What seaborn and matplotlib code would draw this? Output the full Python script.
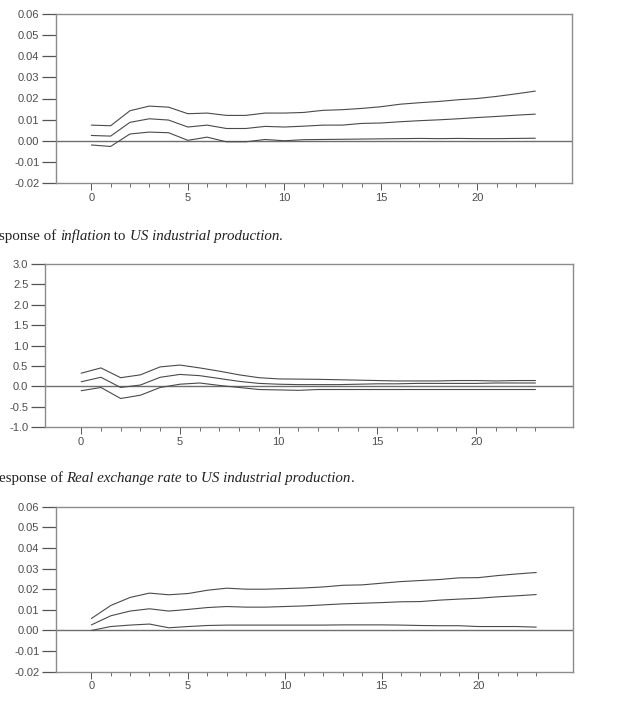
import pandas as pd
import matplotlib
matplotlib.use("Agg")
import matplotlib.pyplot as plt
from matplotlib.ticker import FixedLocator
import seaborn as sns

# horizon (periods after the shock)
periods = list(range(24))

# response of the first variable (top panel)
p1_upper = [0.0074, 0.0071, 0.0142, 0.0164, 0.0159, 0.0128, 0.0131, 0.0120, 0.0120, 0.0131, 0.0131, 0.0134,
            0.0144, 0.0147, 0.0153, 0.0161, 0.0173, 0.0180, 0.0186, 0.0194, 0.0200, 0.0210, 0.0222, 0.0235]
p1_mid = [0.0025, 0.0022, 0.0087, 0.0104, 0.0098, 0.0065, 0.0074, 0.0058, 0.0058, 0.0068, 0.0065, 0.0069,
          0.0074, 0.0074, 0.0082, 0.0084, 0.0090, 0.0095, 0.0099, 0.0104, 0.0110, 0.0115, 0.0121, 0.0126]
p1_lower = [-0.0020, -0.0027, 0.0032, 0.0041, 0.0038, 0.0002, 0.0017, -0.0005, -0.0005, 0.0006, 0.0000, 0.0005,
            0.0006, 0.0007, 0.0008, 0.0009, 0.0010, 0.0011, 0.0010, 0.0011, 0.0010, 0.0010, 0.0011, 0.0012]

# response of inflation to US industrial production
p2_upper = [0.32, 0.45, 0.21, 0.28, 0.475, 0.52, 0.45, 0.37, 0.28, 0.21, 0.18, 0.175,
            0.17, 0.16, 0.15, 0.14, 0.13, 0.13, 0.13, 0.14, 0.14, 0.13, 0.14, 0.14]
p2_mid = [0.11, 0.22, -0.03, 0.03, 0.22, 0.29, 0.26, 0.19, 0.12, 0.07, 0.05, 0.04,
          0.04, 0.04, 0.05, 0.06, 0.06, 0.07, 0.07, 0.07, 0.07, 0.08, 0.08, 0.08]
p2_lower = [-0.11, -0.03, -0.30, -0.22, -0.03, 0.05, 0.08, 0.02, -0.03, -0.08, -0.09, -0.10,
            -0.08, -0.08, -0.08, -0.08, -0.08, -0.08, -0.08, -0.08, -0.08, -0.08, -0.08, -0.08]

# response of real exchange rate to US industrial production
p3_upper = [0.0058, 0.0121, 0.0160, 0.0181, 0.0173, 0.0179, 0.0195, 0.0205, 0.0200, 0.0200, 0.0203, 0.0206,
            0.0211, 0.0219, 0.0221, 0.0229, 0.0237, 0.0242, 0.0247, 0.0255, 0.0256, 0.0266, 0.0274, 0.0281]
p3_mid = [0.0027, 0.0071, 0.0094, 0.0105, 0.0094, 0.0102, 0.0111, 0.0116, 0.0113, 0.0113, 0.0116, 0.0119,
          0.0124, 0.0129, 0.0132, 0.0135, 0.0139, 0.0140, 0.0147, 0.0152, 0.0156, 0.0163, 0.0168, 0.0174]
p3_lower = [0.0000, 0.0019, 0.0026, 0.0031, 0.0013, 0.0019, 0.0024, 0.0026, 0.0026, 0.0026, 0.0026, 0.0026,
            0.0026, 0.0027, 0.0027, 0.0027, 0.0026, 0.0024, 0.0023, 0.0023, 0.0019, 0.0019, 0.0019, 0.0016]

p1_yticks = [-0.02, -0.01, 0.0, 0.01, 0.02, 0.03, 0.04, 0.05, 0.06]
p2_yticks = [-1.0, -0.5, 0.0, 0.5, 1.0, 1.5, 2.0, 2.5, 3.0]
p3_yticks = p1_yticks

caption1 = [("sponse of ", "normal"), ("inflation", "italic"), (" to ", "normal"),
            ("US industrial production", "italic"), (".", "normal")]
caption2 = [("esponse of ", "normal"), ("Real exchange rate", "italic"), (" to ", "normal"),
            ("US industrial production", "italic"), (".", "normal")]

sns.set_style("white")
plt.rcParams["font.family"] = ["Liberation Sans", "DejaVu Sans"]

LINE = "#4a4a4a"
FRAME = "#8c8c8c"
TXT = "#4d4d4d"

fig = plt.figure(figsize=(6.24, 7.06), dpi=100)


def irf_panel(rect, upper, mid, lower, yticks, fmt):
    ax = fig.add_axes(rect)
    df = pd.DataFrame({"h": periods, "upper": upper, "mid": mid, "lower": lower})
    for col in ["upper", "mid", "lower"]:
        sns.lineplot(data=df, x="h", y=col, ax=ax, color=LINE, linewidth=0.8)
    ax.axhline(0, color="#6e6e6e", linewidth=1.0, zorder=1)
    ax.set_xlim(-1.83, 24.9)
    ax.set_ylim(yticks[0], yticks[-1])
    ax.set_yticks(yticks)
    ax.set_yticklabels([fmt.format(v) for v in yticks])
    ax.xaxis.set_major_locator(FixedLocator([0, 5, 10, 15, 20]))
    ax.xaxis.set_minor_locator(FixedLocator(periods))
    ax.set_xlabel("")
    ax.set_ylabel("")
    for sp in ax.spines.values():
        sp.set_visible(True)
        sp.set_color(FRAME)
        sp.set_linewidth(1.0)
    ax.tick_params(axis="y", which="major", direction="out", length=10, width=0.9,
                   color="#555555", labelsize=8, labelcolor=TXT, pad=2, left=True)
    ax.tick_params(axis="x", which="major", direction="out", length=5, width=0.7,
                   color="#555555", labelsize=8, labelcolor=TXT, pad=2, bottom=True)
    ax.tick_params(axis="x", which="minor", direction="out", length=3, width=0.6,
                   color="#555555", bottom=True)
    return ax


irf_panel([56 / 624, 1 - 183 / 706, 516 / 624, 169 / 706], p1_upper, p1_mid, p1_lower, p1_yticks, "{:.2f}")
irf_panel([45 / 624, 1 - 427 / 706, 528 / 624, 163 / 706], p2_upper, p2_mid, p2_lower, p2_yticks, "{:.1f}")
irf_panel([56 / 624, 1 - 671.7 / 706, 517 / 624, 165 / 706], p3_upper, p3_mid, p3_lower, p3_yticks, "{:.2f}")


def caption(y, parts):
    # chain the roman and italic pieces one after another
    last = None
    for text, style in parts:
        kw = dict(fontsize=10.8, family=["Liberation Serif", "DejaVu Serif"], style=style,
                  color="#222222", ha="left")
        if last is None:
            last = fig.text(-0.002, y, text, va="baseline", **kw)
        else:
            last = plt.annotate(text, xy=(1, 0), xycoords=last, va="bottom",
                                annotation_clip=False, **kw)


caption(1 - 240 / 706, caption1)
caption(1 - 482 / 706, caption2)

fig.savefig("out.png", dpi=100)
